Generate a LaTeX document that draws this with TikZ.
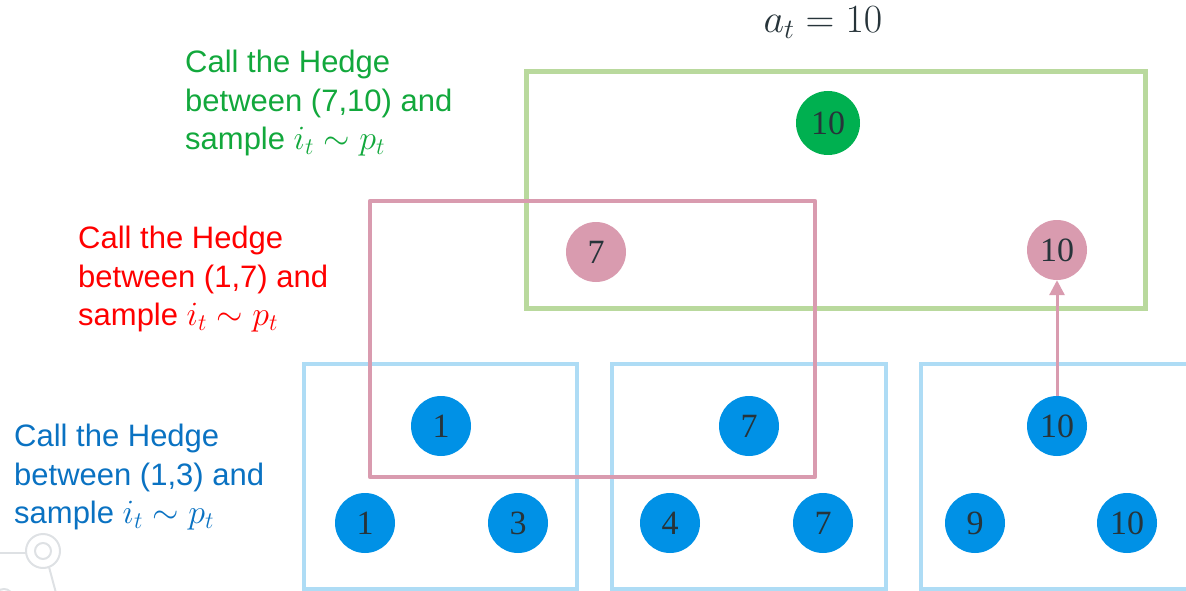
\RequirePackage{fix-cm}
\documentclass[tikz,border=0pt]{standalone}
\usepackage{fontspec}
\setmainfont{Liberation Sans}
\newfontfamily\digitfont{Liberation Serif}
\usetikzlibrary{arrows.meta}

\definecolor{greentxt}{HTML}{12A83C}
\definecolor{redtxt}{HTML}{FF0000}
\definecolor{bluetxt}{HTML}{0A72C2}
\definecolor{greenfill}{HTML}{00B050}
\definecolor{pinkfill}{HTML}{D99BAF}
\definecolor{bluefill}{HTML}{0091E6}
\definecolor{greenline}{HTML}{B9D99D}
\definecolor{pinkline}{HTML}{D99BAF}
\definecolor{blueline}{HTML}{AEDCF5}
\definecolor{numcol}{HTML}{27343A}
\definecolor{iconcol}{HTML}{DEE1E4}

% formula for the sampling step
\newcommand{\samplestep}{{\fontsize{34}{38.5}\selectfont$i_t \sim p_t$}}

\tikzset{
  dot/.style={circle, minimum size=60pt, inner sep=0pt, text=numcol,
    font=\digitfont\fontsize{34}{34}\selectfont},
  bluedot/.style={dot, fill=bluefill},
  pinkdot/.style={dot, fill=pinkfill},
  greendot/.style={dot, fill=greenfill, minimum size=64pt},
  bluebox/.style={draw=blueline, line width=4pt},
  pinkbox/.style={draw=pinkline, line width=4.5pt, line join=round},
  greenbox/.style={draw=greenline, line width=5pt},
  label/.style={anchor=north west, inner sep=0pt, align=left,
    font=\fontsize{31}{38.5}\selectfont},
  link/.style={draw=pinkline, line width=3pt,
    -{Triangle[width=15pt,length=15pt]}},
  icon/.style={draw=iconcol, line width=2pt}
}

\begin{document}
\begin{tikzpicture}[x=1pt, y=-1pt]
\useasboundingbox (0,0) rectangle (1186,591);

% decorative network glyph in the corner
\draw[icon] (43,551) circle (17);
\draw[icon] (43,551) circle (8);
\draw[icon] (0,553) -- (26,553);
\draw[icon] (49,567) -- (56,593);
\draw[icon] (4,598) circle (9);

% lowest level: three groups of leaves
\draw[bluebox] (304,364) rectangle (577,589);
\draw[bluebox] (612,364) rectangle (886,589);
\draw[bluebox] (921,364) rectangle (1200,589);

% upper level groups
\draw[greenbox] (526,72) rectangle (1145,308);
\draw[pinkbox] (370,201) rectangle (815,477);

% bottom row of leaves
\node[bluedot] (l1) at (365,523) {1};
\node[bluedot] (l3) at (518,523) {3};
\node[bluedot] (l4) at (670,523) {4};
\node[bluedot] (l7) at (823,523) {7};
\node[bluedot] (l9) at (975,523) {9};
\node[bluedot] (l10) at (1127,523) {10};

% winners of the first round
\node[bluedot] (w1) at (441,426) {1};
\node[bluedot] (w7) at (749,426) {7};
\node[bluedot] (w10) at (1057,426) {10};

% second round
\node[pinkdot] (p7) at (596,252) {7};
\node[pinkdot] (p10) at (1057,250) {10};

% final choice
\node[greendot] (g10) at (828,123) {10};

\draw[link] (w10.north) -- (p10.south);

% result and labels
\node[anchor=base, inner sep=0pt, text=numcol,
  font=\fontsize{40}{40}\selectfont] (res) at (823,33) {$a_t = 10$};

\node[label, text=greentxt] (lg) at (185,50)
  {Call the Hedge\\between (7,10) and\\sample \samplestep};
\node[label, text=redtxt] (lr) at (78,226)
  {Call the Hedge\\between (1,7) and\\sample \samplestep};
\node[label, text=bluetxt] (lb) at (14,424)
  {Call the Hedge\\between (1,3) and\\sample \samplestep};
\end{tikzpicture}
\end{document}
